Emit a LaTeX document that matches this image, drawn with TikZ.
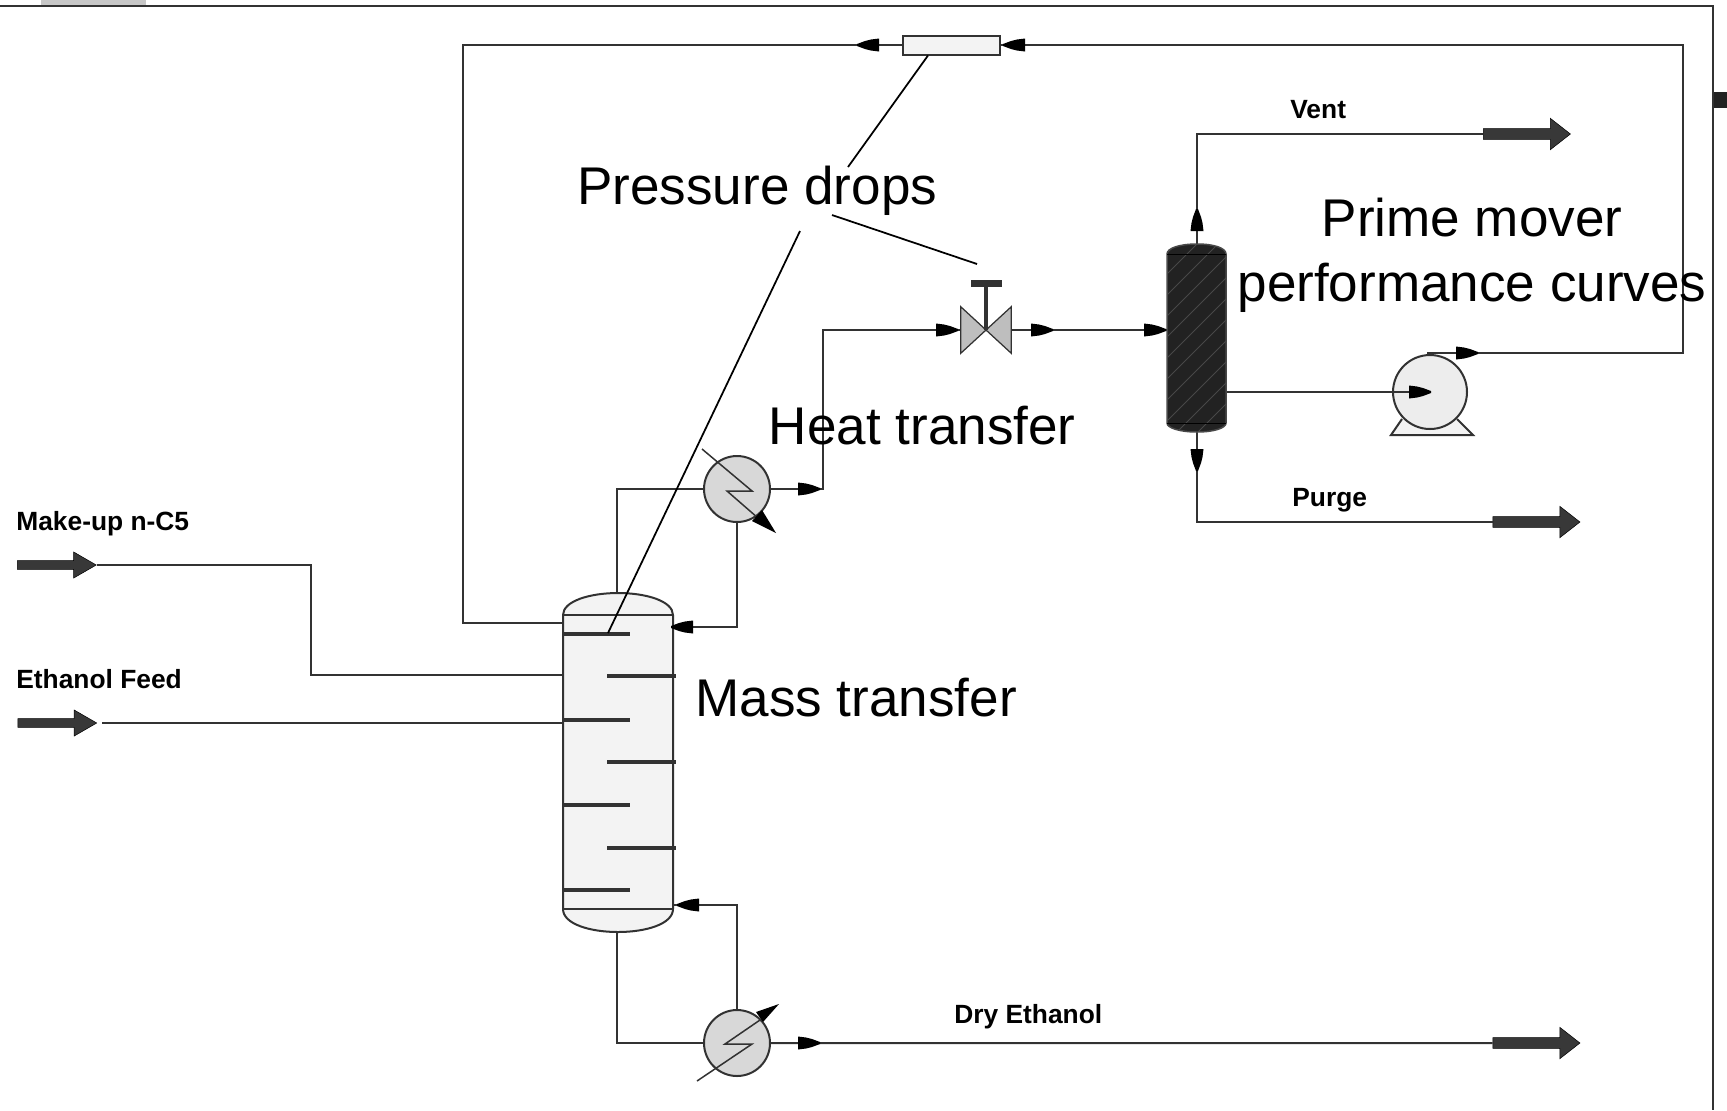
\documentclass[tikz,border=0pt]{standalone}
\usepackage{fontspec}
\setmainfont{Liberation Sans}
\usepackage{tikz}
\usetikzlibrary{shapes.geometric, shapes.arrows}
\definecolor{pipegray}{RGB}{50,50,50}
\definecolor{shellgray}{RGB}{243,243,243}
\definecolor{exchgray}{RGB}{216,216,216}
\definecolor{valvegray}{RGB}{190,190,190}
\definecolor{drumblack}{RGB}{34,34,34}
\definecolor{hatchgray}{RGB}{72,72,72}
\definecolor{streamgray}{RGB}{56,56,56}
\tikzstyle{pipe} = [draw=pipegray, line width=0.04cm, line join=miter]
\tikzstyle{shell} = [draw=pipegray, line width=0.04cm, fill=shellgray]
\tikzstyle{tray} = [draw=pipegray, line width=0.07cm]
\tikzstyle{exchanger} = [circle, draw=pipegray, line width=0.04cm, fill=exchgray, minimum size=1.32cm, inner sep=0pt]
\tikzstyle{feedstream} = [single arrow, draw=black, line width=0.01cm, fill=streamgray, inner sep=0pt, text height=0.125cm, text depth=0pt, minimum width=0.52cm, minimum height=1.58cm, single arrow head extend=0.135cm, single arrow tip angle=60]
\tikzstyle{prodstream} = [single arrow, draw=black, line width=0.01cm, fill=streamgray, inner sep=0pt, text height=0.155cm, text depth=0pt, minimum width=0.63cm, minimum height=1.74cm, single arrow head extend=0.16cm, single arrow tip angle=76]
\tikzstyle{tag} = [font=\bfseries\fontsize{15}{18}\selectfont, inner sep=0pt]
\tikzstyle{note} = [font=\fontsize{30.2}{37}\selectfont, align=center, inner sep=0pt]
\tikzstyle{pointer} = [draw=black, line width=0.035cm]
\newcommand{\pipetip}[3]{\fill [black, shift={(#1,#2)}, rotate=#3] (-22,6.5) -- (-14,5.5) -- (-8,4) -- (0,1) -- (0,-1) -- (-8,-4) -- (-14,-5.5) -- (-22,-6.5) -- cycle;}

\begin{document}
\begin{tikzpicture}
	[x=0.02cm, y=-0.02cm]
	\useasboundingbox (0,0) rectangle (1727,1110);

	% window edge
	\fill [black!22] (41,0) rectangle (146,5);
	\fill [drumblack] (1713,92) rectangle (1727,108);
	\draw [draw=pipegray, line width=0.05cm] (0,6) -- (1713,6) -- (1713,1110);

	% equipment
	\node (column) [minimum width=2.2cm, minimum height=6.78cm, inner sep=0pt] at (617,762.5) {};
	\node (drum) [minimum width=1.18cm, minimum height=3.76cm, inner sep=0pt] at (1197,338) {};
	\node (condenser) [exchanger] at (737,489) {};
	\node (reboiler) [exchanger] at (737,1043) {};
	\node (orifice) [rectangle, shell, minimum width=1.94cm, minimum height=0.38cm, inner sep=0pt] at (951,45) {};
	\node (valve) [minimum width=1cm, minimum height=0.92cm, inner sep=0pt] at (986,330) {};
	\node (makeup) [feedstream] at (53,565) {};
	\node (feed) [feedstream] at (53.5,723) {};
	\node (vent) [prodstream] at (1523.5,134) {};
	\node (purge) [prodstream] at (1533,522) {};
	\node (dry) [prodstream] at (1533,1043) {};

	\coordinate (recleft) at (463,45);
	\coordinate (recright) at (1683,45);
	\coordinate (colvent) at (566,623);
	\coordinate (mbend) at (311,565);
	\coordinate (colmake) at (563,675);
	\coordinate (colfeed) at (563,723);
	\coordinate (feedstart) at (102,723);
	\coordinate (coltop) at (673,627);
	\coordinate (colbot) at (673,905);
	\coordinate (ovhbend) at (823,330);
	\coordinate (pumpin) at (1430,392);
	\coordinate (pumpout) at (1427,353);

	% pipes
	\draw [pipe] (orifice.west) -- (recleft) |- (colvent);
	\draw [pipe] (pumpout) -| (recright) -- (orifice.east);
	\draw [pipe] (makeup.tip) -- (mbend) |- (colmake);
	\draw [pipe] (feedstart) -- (colfeed);
	\draw [pipe] (column.north) |- (condenser.west);
	\draw [pipe] (condenser.east) -| (ovhbend) -- (valve.west);
	\draw [pipe] (condenser.south) |- (coltop);
	\draw [pipe] (valve.east) -- (drum.west |- valve.east);
	\draw [pipe] (drum.north) |- (vent.west);
	\draw [pipe] (drum.south) |- (purge.west);
	\draw [pipe] (column.south) |- (reboiler.west);
	\draw [pipe] (reboiler.north) |- (colbot);
	\draw [pipe] (reboiler.east) -- (dry.west);

	% column
	\draw [shell] (563,615) .. controls (563,601) and (590,593) .. (618,593) .. controls (646,593) and (673,601) .. (673,615) -- (673,909) .. controls (673,924) and (646,932) .. (618,932) .. controls (590,932) and (563,924) .. (563,909) -- cycle;
	\draw [pipe] (563,615) -- (673,615);
	\draw [pipe] (563,909) -- (673,909);
	\foreach \y in {634,720,805,890}
		\draw [tray] (563,\y) -- (630,\y);
	\foreach \y in {676,762,848}
		\draw [tray] (607,\y) -- (676,\y);

	% drum
	\begin{scope}
		\clip (1167,254) .. controls (1167,248) and (1180,244) .. (1197,244) .. controls (1214,244) and (1226,248) .. (1226,254) -- (1226,423) .. controls (1226,428) and (1214,432) .. (1197,432) .. controls (1180,432) and (1167,428) .. (1167,423) -- cycle;
		\fill [drumblack] (1160,240) rectangle (1230,435);
		\foreach \y in {255,276,...,480}
			\draw [hatchgray, line width=0.015cm] (1165,\y) -- (1230,\y-65);
	\end{scope}
	\draw [draw=hatchgray, line width=0.03cm] (1167,254) .. controls (1167,248) and (1180,244) .. (1197,244) .. controls (1214,244) and (1226,248) .. (1226,254) -- (1226,423) .. controls (1226,428) and (1214,432) .. (1197,432) .. controls (1180,432) and (1167,428) .. (1167,423) -- cycle;
	\draw [draw=black, line width=0.02cm] (1167,254) -- (1226,254) (1167,423) -- (1226,423);

	% valve
	\draw [pipe, line width=0.025cm, fill=valvegray] (valve.north west) -- (valve.center) -- (valve.south west) -- cycle;
	\draw [pipe, line width=0.025cm, fill=valvegray] (valve.north east) -- (valve.center) -- (valve.south east) -- cycle;
	\draw [draw=pipegray, line width=0.09cm] (valve.center) -- (986,284);
	\fill [pipegray] (971,280) rectangle (1002,287);

	% exchanger tubes
	\draw [pipe, line width=0.03cm] (702,449) -- (752,491) -- (727,491) -- (758,518);
	\fill [black] (776,533) -- (752,521) -- (762,510) -- cycle;
	\draw [pipe, line width=0.03cm] (697,1081) -- (752,1044) -- (725,1044) -- (760,1020);
	\fill [black] (779,1004) -- (763,1022) -- (756,1012) -- cycle;

	% pump
	\draw [shell] (1402,419) -- (1391,435) -- (1473,435) -- (1457,419);
	\node (pump) [circle, shell, minimum size=1.48cm, inner sep=0pt, fill=black!7] at (1430,392) {};
	\draw [pipe] (drum.east |- pump) -- (pumpin);
	\draw [pipe] (pumpout) -- (1457,353);

	% flow tips
	\pipetip{857}{45}{180}
	\pipetip{1003}{45}{180}
	\pipetip{820}{489}{0}
	\pipetip{958}{330}{0}
	\pipetip{1053}{330}{0}
	\pipetip{1166}{330}{0}
	\pipetip{671}{627}{180}
	\pipetip{677}{905}{180}
	\pipetip{820}{1043}{0}
	\pipetip{1197}{209}{90}
	\pipetip{1197}{471}{-90}
	\pipetip{1431}{392}{0}
	\pipetip{1478}{353}{0}

	% stream labels
	\node (lmakeup) [tag, anchor=west] at (16,524) {Make-up n-C5};
	\node (lfeed) [tag, anchor=west] at (16,679) {Ethanol Feed};
	\node (lvent) [tag, anchor=west] at (1290,110) {Vent};
	\node (lpurge) [tag, anchor=west] at (1292,500) {Purge};
	\node (ldry) [tag, anchor=west] at (954,1017) {Dry Ethanol};

	% notes
	\draw [pointer] (orifice.south -| 928,54) -- (848,167);
	\draw [pointer] (832,215) -- (977,264);
	\draw [pointer] (800,231) -- (608,633);
	\node (drops) [note, anchor=west] at (577,190.5) {Pressure drops};
	\node (prime) [note] at (1472,255) {Prime mover\\performance curves};
	\node (heat) [note, anchor=west] at (768.5,426) {Heat transfer};
	\node (mass) [note, anchor=west] at (695,698) {Mass transfer};
\end{tikzpicture}
\end{document}
